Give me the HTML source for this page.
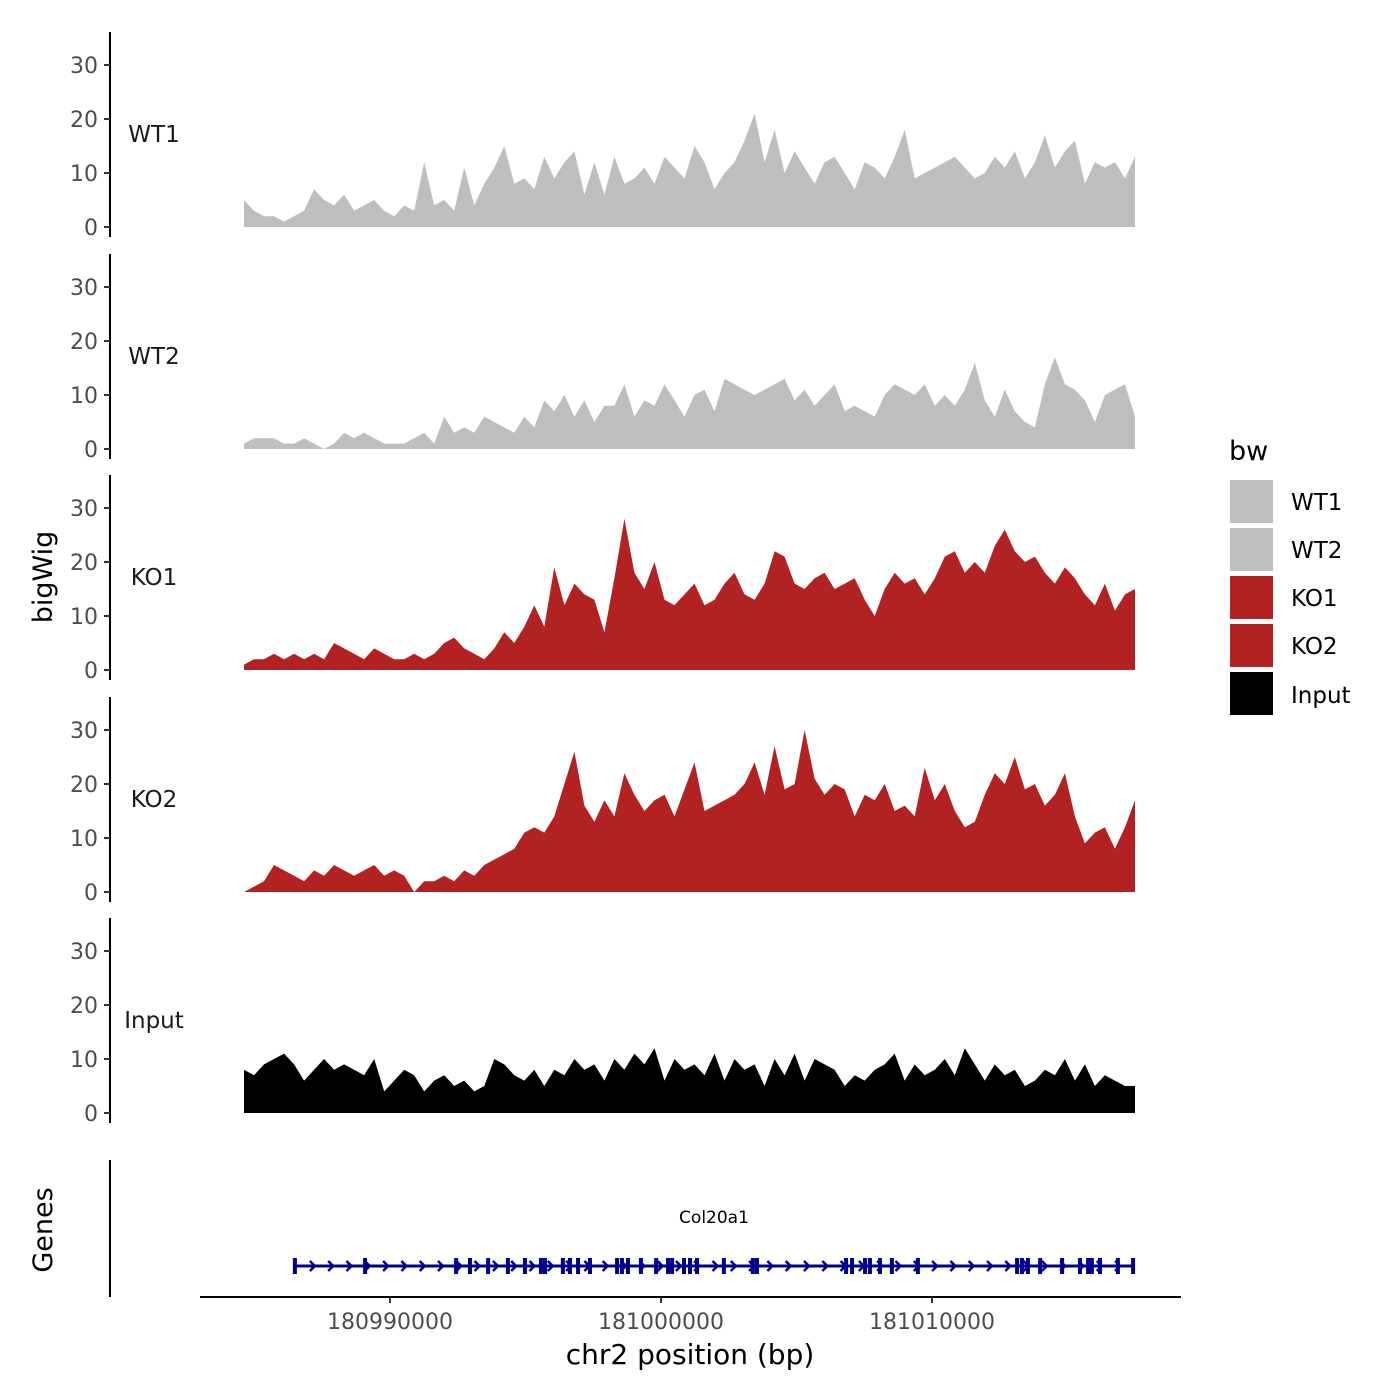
<!DOCTYPE html>
<html><head><meta charset="utf-8"><style>
body{margin:0;background:#fff;}
svg{display:block;font-family:"DejaVu Sans","Liberation Sans",sans-serif;}
</style></head><body>
<svg id="chart" width="1400" height="1400" viewBox="0 0 1400 1400" xmlns="http://www.w3.org/2000/svg">
<g id="tracks"></g>
<g id="genes"></g>
<text x="0" y="0" transform="translate(52,577) rotate(-90)" text-anchor="middle" font-size="27" fill="#000">bigWig</text>
<text x="0" y="0" transform="translate(52,1230) rotate(-90)" text-anchor="middle" font-size="27" fill="#000">Genes</text>
<line x1="110" y1="1160" x2="110" y2="1297" stroke="#000" stroke-width="2"/>
<line x1="200" y1="1297" x2="1181" y2="1297" stroke="#000" stroke-width="2"/>
<text x="690" y="1364" text-anchor="middle" font-size="28" fill="#000">chr2 position (bp)</text>
<g>
<text x="1229" y="460" font-size="27" fill="#000">bw</text>
<rect x="1230" y="480" width="43" height="43" fill="#bebebe"/>
<rect x="1230" y="528" width="43" height="43" fill="#bebebe"/>
<rect x="1230" y="576" width="43" height="43" fill="#b22222"/>
<rect x="1230" y="624" width="43" height="43" fill="#b22222"/>
<rect x="1230" y="672" width="43" height="43" fill="#000"/>
<text x="1291" y="510" font-size="23">WT1</text>
<text x="1291" y="558" font-size="23">WT2</text>
<text x="1291" y="606" font-size="23">KO1</text>
<text x="1291" y="654" font-size="23">KO2</text>
<text x="1291" y="703" font-size="23">Input</text>
</g>
</svg>
<script>
const trackNames = ["WT1","WT2","KO1","KO2","Input"];
const trackColors = ["#bebebe","#bebebe","#b22222","#b22222","#000000"];
const yTicks = [0,10,20,30];
const xTicks = [180990000,181000000,181010000];
const startBp = 180984613;
const stepBp = 369.4;
const wt1 = [5,3,2,2,1,2,3,7,5,4, 6,3,4,5,3,2,4,3,12,4, 5,3,11,4,8,11,15,8,9,7, 13,9,12,14,6,12,6,13,8,9, 11,8,13,11,9,15,12,7,10,12, 16,21,12,18,10,14,11,8,12,13, 10,7,12,11,9,13,18,9,10,11, 12,13,11,9,10,13,11,14,9,12, 17,11,14,16,8,12,11,12,9,13];
const wt2 = [1,2,2,2,1,1,2,1,0,1, 3,2,3,2,1,1,1,2,3,1, 6,3,4,3,6,5,4,3,6,4, 9,7,10,6,9,5,8,8,12,6, 9,8,12,9,6,10,11,7,13,12, 11,10,11,12,13,9,11,8,10,12, 7,8,7,6,10,12,11,10,12,8, 10,8,11,16,9,6,11,7,5,4, 12,17,12,11,9,5,10,11,12,6];
const ko1 = [1,2,2,3,2,3,2,3,2,5, 4,3,2,4,3,2,2,3,2,3, 5,6,4,3,2,4,7,5,8,12, 8,19,12,16,14,13,7,17,28,18, 15,20,13,12,14,16,12,13,16,18, 14,13,16,22,21,16,15,17,18,15, 16,17,13,10,15,18,16,17,14,17, 21,22,18,20,18,23,26,22,20,21, 18,16,19,17,14,12,16,11,14,15];
const ko2 = [0,1,2,5,4,3,2,4,3,5, 4,3,4,5,3,4,3,0,2,2, 3,2,4,3,5,6,7,8,11,12, 11,14,20,26,16,13,17,14,22,18, 15,17,18,14,19,24,15,16,17,18, 20,24,18,27,19,20,30,21,18,20, 19,14,18,17,20,15,16,14,23,17, 20,15,12,13,18,22,20,25,19,20, 16,18,22,14,9,11,12,8,12,17];
const inputT = [8,7,9,10,11,9,6,8,10,8, 9,8,7,10,4,6,8,7,4,6, 7,5,6,4,5,10,9,7,6,8, 5,8,7,10,8,9,6,10,8,11, 9,12,6,10,8,9,7,11,6,10, 8,9,5,10,7,11,6,10,9,8, 5,7,6,8,9,11,6,9,7,8, 10,7,12,9,6,9,7,8,5,6, 8,7,10,6,9,5,7,6,5,5];
const geneName = "Col20a1";
const geneStartKb = -3.51, geneEndKb = 27.42;
const exonKb = [-3.51,-0.92,2.44,2.95,3.62,4.35,4.98,5.57,5.72,6.38,6.64,6.94,7.38,8.38,8.56,8.78,9.26,9.82,10.26,10.41,10.85,11.07,11.33,12.32,13.39,13.54,16.83,17.05,17.53,17.71,18.08,18.52,19.48,23.14,23.32,23.54,23.99,24.80,25.46,25.76,25.90,26.20,26.86,27.42];

const NS="http://www.w3.org/2000/svg";
function mk(tag,attrs,parent){const e=document.createElementNS(NS,tag);for(const k in attrs)e.setAttribute(k,attrs[k]);parent.appendChild(e);return e;}
const xScale = bp => 390 + (bp-180990000)*271/10000;
const zeros = [227,449,670,892,1113];
const tracks = document.getElementById('tracks');
const allData = [wt1,wt2,ko1,ko2,inputT];
allData.forEach((vals,t)=>{
  const y0 = zeros[t];
  const yS = v => y0 - v*5.4;
  const g = mk('g',{},tracks);
  
  
  const ax = mk('line',{x1:110,y1:y0-195,x2:110,y2:y0+10,stroke:'#000','stroke-width':2},g);
  
  
  yTicks.forEach(v=>{
    const tk = mk('line',{x1:104,y1:yS(v),x2:110,y2:yS(v),stroke:'#333','stroke-width':2},g);
    
    
    const tl = mk('text',{x:98,y:yS(v)+8,'text-anchor':'end','font-size':22,fill:'#4d4d4d'},g);
    tl.textContent = v;
    
    
  });
  const lab = mk('text',{x:154,y:y0-85,'text-anchor':'middle','font-size':23,fill:'#1a1a1a'},g);
  lab.textContent = trackNames[t];
  
  
  let d = 'M'+xScale(startBp)+','+y0;
  vals.forEach((v,i)=>{ d += ' L'+xScale(startBp+i*stepBp).toFixed(1)+','+yS(v).toFixed(1); });
  d += ' L'+xScale(startBp+(vals.length-1)*stepBp).toFixed(1)+','+y0+' Z';
  const area = mk('path',{d:d,fill:trackColors[t]},g);
  
  
});
const svg = document.getElementById('chart');
xTicks.forEach(v=>{
  const x = xScale(v);
  const tk = mk('line',{x1:x,y1:1297,x2:x,y2:1303,stroke:'#333','stroke-width':2},svg);
  
  
  const tl = mk('text',{x:x,y:1329,'text-anchor':'middle','font-size':22,fill:'#4d4d4d'},svg);
  tl.textContent = v;
  
  
});
const gg = document.getElementById('genes');
const gx0 = xScale(180990000+geneStartKb*1000), gx1 = xScale(180990000+geneEndKb*1000);
const gl = mk('line',{x1:gx0,y1:1266,x2:gx1,y2:1266,stroke:'#00008b','stroke-width':3},gg);


for(let x=gx0+18;x<gx1;x+=18.3){
  const a = mk('polyline',{points:(x-3)+',1261 '+(x+2)+',1266 '+(x-3)+',1271',fill:'none',stroke:'#00008b','stroke-width':2.5},gg);
  
  
}
exonKb.forEach(k=>{
  const x = xScale(180990000+k*1000);
  const r = mk('rect',{x:x-2,y:1258,width:4,height:16,fill:'#00008b'},gg);
  
  
});
const gt = mk('text',{x:(gx0+gx1)/2,y:1223,'text-anchor':'middle','font-size':17,fill:'#000'},gg);
gt.textContent = geneName;


</script>
</body></html>
